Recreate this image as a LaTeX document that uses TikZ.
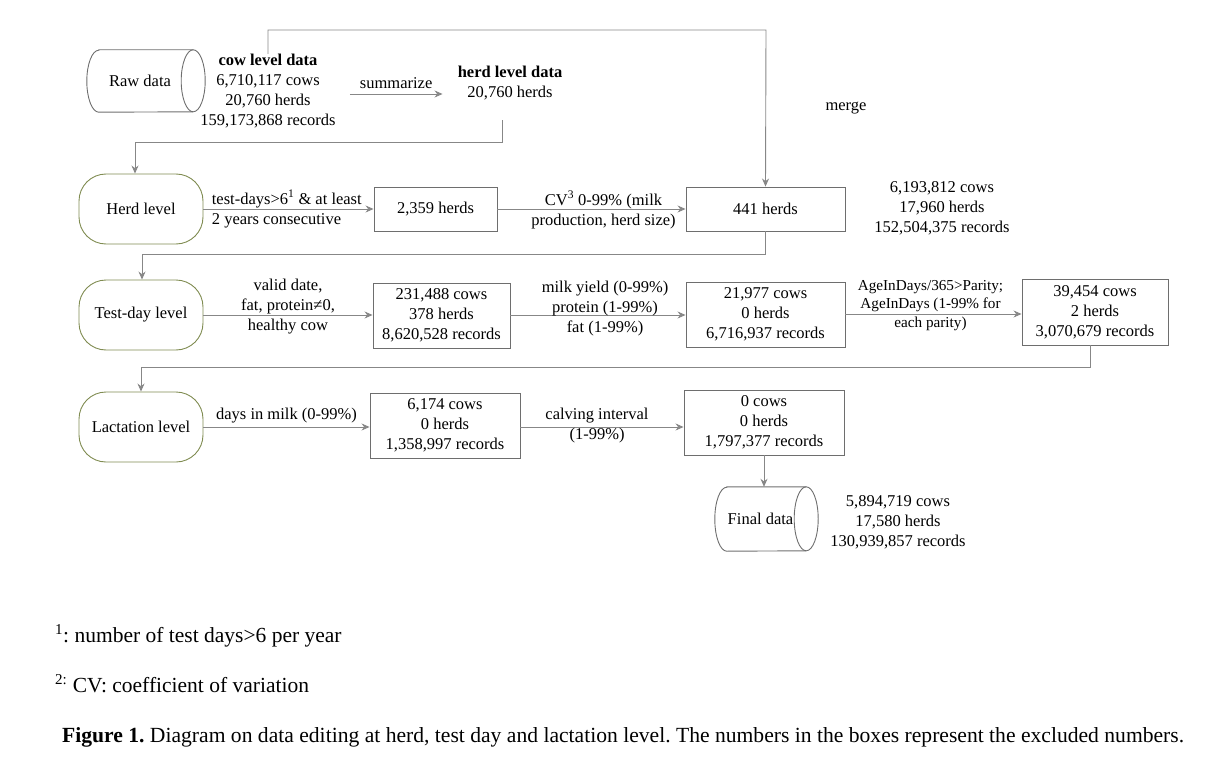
\documentclass[tikz,border=0pt]{standalone}
\usepackage{fontspec}
\setmainfont{Liberation Serif}
\usetikzlibrary{calc,arrows.meta}
\definecolor{ln}{RGB}{135,135,135}
\definecolor{bx}{RGB}{110,110,110}
\definecolor{olv}{RGB}{128,140,82}
\tikzset{
  base/.style={font=\fontsize{16.5}{20}\selectfont, inner sep=0pt, align=center, text=black},
  txt/.style={base},
  small/.style={base, font=\fontsize{15.2}{18.5}\selectfont},
  box/.style={base, draw=bx, line width=0.9pt},
  lvl/.style={base, draw=olv, line width=0.9pt, rounded corners=27pt, minimum width=124pt, minimum height=70pt},
  arr/.style={draw=ln, line width=0.9pt, -{Stealth[length=8pt,width=7pt]}, color=ln},
  cylb/.style={draw=bx, line width=0.9pt},
}
\begin{document}
\frenchspacing
\begin{tikzpicture}[x=1pt,y=-1pt]
\useasboundingbox (0,0) rectangle (1221,757);
% raw data cylinder
\node[base, minimum width=106pt, minimum height=62pt] (raw) at (140,81) {Raw data};
\draw[cylb] ([xshift=12pt]raw.north west) -- (raw.north east)
  arc[start angle=90, end angle=-90, x radius=12pt, y radius=31pt]
  -- ([xshift=12pt]raw.south west)
  arc[start angle=270, end angle=90, x radius=12pt, y radius=31pt] -- cycle;
\draw[cylb] (raw.north east) arc[start angle=90, end angle=270, x radius=12pt, y radius=31pt];

\node[txt] (cow) at (268,91) {\textbf{cow level data}\\6,710,117 cows\\20,760 herds\\159,173,868 records};
\node[txt] (herd) at (510,83) {\textbf{herd level data}\\20,760 herds};
\node[txt] (mg) at (846,108) {merge};

\node[lvl] (hl) at (141,209) {Herd level};
\node[box, minimum width=123pt, minimum height=44pt] (b1) at (435.5,209) {2,359 herds};
\node[box, minimum width=159pt, minimum height=44pt] (b2) at (765.5,209) {441 herds};
\node[txt] (r1) at (942,208.5) {6,193,812 cows\\17,960 herds\\152,504,375 records};

\node[lvl] (tl) at (141,315) {Test-day level};
\node[box, minimum width=137pt, minimum height=65pt] (t1) at (441.5,315.5) {231,488 cows\\378 herds\\8,620,528 records};
\node[box, minimum width=159pt, minimum height=65pt] (t2) at (765.5,314.5) {21,977 cows\\0 herds\\6,716,937 records};
\node[box, minimum width=146pt, minimum height=66pt] (t3) at (1095,312) {39,454 cows\\2 herds\\3,070,679 records};

\node[lvl] (ll) at (141,427) {Lactation level};
\node[box, minimum width=150pt, minimum height=65pt] (l1) at (445,425.5) {6,174 cows\\0 herds\\1,358,997 records};
\node[box, minimum width=160pt, minimum height=65pt] (l2) at (764,422.5) {0 cows\\0 herds\\1,797,377 records};

% final data cylinder
\node[base, minimum width=91pt, minimum height=64pt] (fin) at (760.5,519) {Final data};
\draw[cylb] ([xshift=12pt]fin.north west) -- (fin.north east)
  arc[start angle=90, end angle=-90, x radius=12pt, y radius=32pt]
  -- ([xshift=12pt]fin.south west)
  arc[start angle=270, end angle=90, x radius=12pt, y radius=32pt] -- cycle;
\draw[cylb] (fin.north east) arc[start angle=90, end angle=270, x radius=12pt, y radius=32pt];
\node[txt] (r2) at (898,522.5) {5,894,719 cows\\17,580 herds\\130,939,857 records};

% connectors
\draw[arr] ($(cow.east)+(14,3)$) -- ($(herd.west)+(-15,11)$)
  node[txt, midway, yshift=11pt] {summarize};
\coordinate (mtop) at (766,30);
\draw[arr] (cow.north) |- (mtop) -- (b2.north);
\coordinate (c1) at (502,142);
\draw[arr] ($(herd.south)+(-8,20)$) -- (c1) -| ([xshift=-6pt]hl.north);

\draw[arr] (hl) -- (b1)
  node[txt, pos=0, anchor=west, xshift=8pt, align=left] {test-days>6\textsuperscript{1} \& at least\\2 years consecutive};
\draw[arr] (b1) -- (b2)
  node[txt, midway, xshift=12pt, yshift=-1pt] {CV\textsuperscript{3} 0-99\% (milk\\production, herd size)};
\draw[arr] (b2.south) -- ++(0,23) -| ([xshift=1pt]tl.north);

\draw[arr] (tl) -- (tl -| t1.west)
  node[txt, midway, yshift=8.5pt] {valid date,\\fat, protein≠0,\\healthy cow};
\draw[arr] (t1.east |- tl) -- (t2.west |- tl)
  node[txt, midway, xshift=7pt, yshift=6.5pt] {milk yield (0-99\%)\\protein (1-99\%)\\fat (1-99\%)};
\draw[arr] (t2.east |- 0,314) -- (t3.west |- 0,314)
  node[small, midway, xshift=-3pt, yshift=8.5pt] {AgeInDays/365>Parity;\\AgeInDays (1-99\% for\\each parity)};
\draw[arr] ([xshift=-5pt]t3.south) -- ++(0,22) -| (ll.north);

\draw[arr] (ll) -- (ll -| l1.west)
  node[txt, midway, yshift=11pt] {days in milk (0-99\%)};
\draw[arr] (l1.east |- ll) -- (l2.west |- ll)
  node[txt, midway, xshift=-5pt, yshift=1pt] {calving interval\\(1-99\%)};
\draw[arr] (l2.south) -- (l2.south |- fin.north);

% footnotes and caption
\node[anchor=base west, inner sep=0pt, font=\fontsize{21.5}{24}\selectfont] (fn1) at (55,642) {\textsuperscript{1}: number of test days>6 per year};
\node[anchor=base west, inner sep=0pt, font=\fontsize{21.5}{24}\selectfont] (fn2) at (55,692) {\textsuperscript{2:} CV: coefficient of variation};
\node[anchor=base west, inner sep=0pt, font=\fontsize{21.6}{24}\selectfont] (cap) at (62,742) {\textbf{Figure 1.} Diagram on data editing at herd, test day and lactation level. The numbers in the boxes represent the excluded numbers.};
\end{tikzpicture}
\end{document}
